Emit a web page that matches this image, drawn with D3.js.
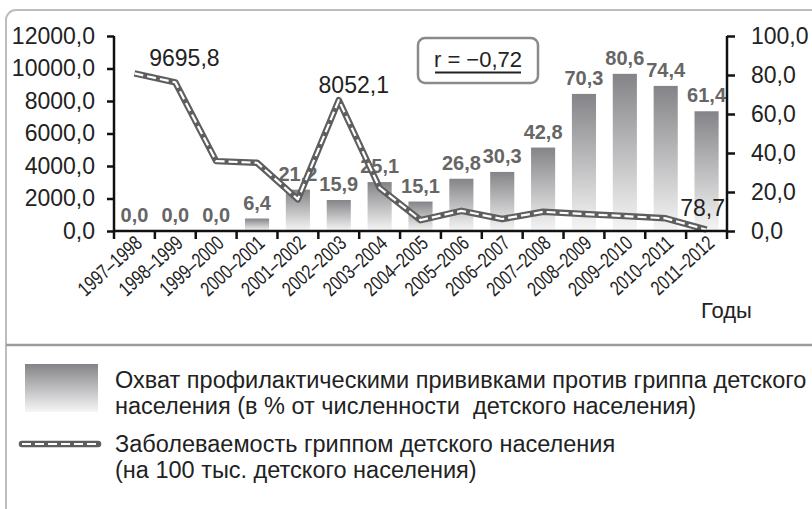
<!DOCTYPE html>
<html>
<head>
<meta charset="utf-8">
<script src="https://cdn.jsdelivr.net/npm/d3@7"></script>
<style>
  body { margin: 0; background: #fff; }
  svg { display: block; font-family: "Liberation Sans", Arial, sans-serif; }
</style>
</head>
<body>
<svg width="812" height="509"></svg>
<script>
// data
var seasons = ["1997–1998", "1998–1999", "1999–2000", "2000–2001", "2001–2002",
  "2002–2003", "2003–2004", "2004–2005", "2005–2006", "2006–2007", "2007–2008",
  "2008–2009", "2009–2010", "2010–2011", "2011–2012"];
var coverage = [0, 0, 0, 6.4, 21.2, 15.9, 25.1, 15.1, 26.8, 30.3, 42.8, 70.3, 80.6, 74.4, 61.4];
var incidence = [9695.8, 9150, 4300, 4200, 1950, 8052.1, 2650, 670, 1240, 740, 1180, 1040, 920, 780, 78.7];
var leftTicks = [0, 2000, 4000, 6000, 8000, 10000, 12000];
var rightTicks = [0, 20, 40, 60, 80, 100];

var fmt = function (v) { return d3.format(".1f")(v).replace(".", ","); };

var svg = d3.select("svg"),
    margin = { top: 36, right: 85, bottom: 278, left: 114 },
    width = +svg.attr("width") - margin.left - margin.right,
    height = +svg.attr("height") - margin.top - margin.bottom;

// gradient for the bars
var defs = svg.append("defs");
var grad = defs.append("linearGradient")
    .attr("id", "barGrad")
    .attr("x1", 0).attr("y1", 0).attr("x2", 0).attr("y2", 1);
grad.append("stop").attr("offset", "0%").attr("stop-color", "#848488");
grad.append("stop").attr("offset", "100%").attr("stop-color", "#f6f6f6");

// outer frame and divider
svg.append("rect")
    .attr("x", 6).attr("y", 10)
    .attr("width", 840).attr("height", 540)
    .attr("rx", 10)
    .attr("fill", "#fff")
    .attr("stroke", "#bdbdbd")
    .attr("stroke-width", 2);
svg.append("line")
    .attr("x1", 6).attr("x2", 812)
    .attr("y1", 345).attr("y2", 345)
    .attr("stroke", "#9a9a9a")
    .attr("stroke-width", 2.5);

var x = d3.scaleBand().domain(seasons).range([0, width]).paddingInner(0.41).paddingOuter(0.205),
    xb = d3.scaleBand().domain(seasons).range([0, width]),
    yL = d3.scaleLinear().domain([0, 12000]).range([height, 0]),
    yR = d3.scaleLinear().domain([0, 100]).range([height, 0]);

var g = svg.append("g")
    .attr("transform", "translate(" + margin.left + "," + margin.top + ")");

// bars
g.selectAll(".bar")
    .data(coverage)
    .enter().append("rect")
    .attr("class", "bar")
    .attr("x", function (d, i) { return x(seasons[i]); })
    .attr("y", function (d) { return yR(d); })
    .attr("width", x.bandwidth())
    .attr("height", function (d) { return height - yR(d); })
    .attr("fill", "url(#barGrad)");

// bar labels
g.selectAll(".barLabel")
    .data(coverage)
    .enter().append("text")
    .attr("class", "barLabel")
    .attr("x", function (d, i) { return xb(seasons[i]) + xb.bandwidth() / 2; })
    .attr("y", function (d) { return yR(d) - 9; })
    .attr("text-anchor", "middle")
    .attr("font-size", 20)
    .attr("font-weight", "bold")
    .attr("fill", "#666")
    .text(fmt);

// incidence line: dark casing with a white dashed core
var line = d3.line()
    .x(function (d, i) { return xb(seasons[i]) + xb.bandwidth() / 2; })
    .y(function (d) { return yL(d); });

g.append("path")
    .datum(incidence)
    .attr("fill", "none")
    .attr("stroke", "#5e5e5e")
    .attr("stroke-width", 6.5)
    .attr("stroke-linejoin", "round")
    .attr("d", line);
g.append("path")
    .datum(incidence)
    .attr("fill", "none")
    .attr("stroke", "#fff")
    .attr("stroke-width", 2.2)
    .attr("stroke-dasharray", "9,4")
    .attr("stroke-linejoin", "round")
    .attr("d", line);

// labels on the line
var lineNotes = [{ i: 0, dx: 50, dy: -7 }, { i: 5, dx: 15, dy: -7 }, { i: 14, dx: -4, dy: -14 }];
g.selectAll(".lineLabel")
    .data(lineNotes)
    .enter().append("text")
    .attr("x", function (d) { return xb(seasons[d.i]) + xb.bandwidth() / 2 + d.dx; })
    .attr("y", function (d) { return yL(incidence[d.i]) + d.dy; })
    .attr("text-anchor", "middle")
    .attr("font-size", 23)
    .attr("fill", "#222")
    .text(function (d) { return fmt(incidence[d.i]); });

// axes
var axL = g.append("g")
    .call(d3.axisLeft(yL).tickValues(leftTicks).tickSize(7).tickPadding(12).tickFormat(fmt));
var axR = g.append("g")
    .attr("transform", "translate(" + width + ",0)")
    .call(d3.axisRight(yR).tickValues(rightTicks).tickSize(8).tickPadding(16).tickFormat(fmt));
var axB = g.append("g")
    .attr("transform", "translate(0," + height + ")")
    .call(d3.axisBottom(xb).tickSize(8).tickFormat(""));

[axL, axR].forEach(function (a) {
  a.selectAll("text").attr("font-size", 23).attr("fill", "#222").attr("font-family", null);
});
[axL, axR, axB].forEach(function (a) {
  a.select(".domain").attr("stroke", "#111").attr("stroke-width", 2.5);
  a.selectAll(".tick line").attr("stroke", "#111").attr("stroke-width", 2.5);
});
axL.select(".domain").attr("d", "M0,0V" + height);
axR.select(".domain").attr("d", "M0,0V" + height);
axB.select(".domain").attr("d", "M0,0H" + width);

// move x ticks to the band edges
axB.selectAll(".tick").remove();
axB.selectAll(".edge")
    .data(d3.range(seasons.length + 1))
    .enter().append("line")
    .attr("x1", function (i) { return i * xb.step(); })
    .attr("x2", function (i) { return i * xb.step(); })
    .attr("y1", 0).attr("y2", 8)
    .attr("stroke", "#111")
    .attr("stroke-width", 2.5);

// rotated season labels (condensed look)
axB.selectAll(".season")
    .data(seasons)
    .enter().append("text")
    .attr("class", "season")
    .attr("transform", function (d) {
      return "translate(" + (xb(d) + xb.bandwidth() / 2 + 9) + ",14) rotate(-42) scale(0.76,1)";
    })
    .attr("text-anchor", "end")
    .attr("font-size", 20.5)
    .attr("fill", "#222")
    .text(function (d) { return d; });

svg.append("text")
    .attr("x", 701).attr("y", 318)
    .attr("font-size", 22)
    .attr("fill", "#222")
    .text("Годы");

// correlation box
svg.append("rect")
    .attr("x", 418).attr("y", 38)
    .attr("width", 120).attr("height", 45)
    .attr("rx", 7)
    .attr("fill", "#fff")
    .attr("stroke", "#8a8a8a")
    .attr("stroke-width", 2.5);
svg.append("text")
    .attr("x", 478).attr("y", 67)
    .attr("text-anchor", "middle")
    .attr("font-size", 22)
    .attr("fill", "#222")
    .text("r = −0,72");
svg.append("line")
    .attr("x1", 435).attr("x2", 521)
    .attr("y1", 72.5).attr("y2", 72.5)
    .attr("stroke", "#222").attr("stroke-width", 2);

// legend
var leg = svg.append("g");
leg.append("rect")
    .attr("x", 25).attr("y", 364)
    .attr("width", 73).attr("height", 48)
    .attr("fill", "url(#barGrad)");
leg.append("line")
    .attr("x1", 22).attr("x2", 98).attr("y1", 444).attr("y2", 444)
    .attr("stroke", "#5e5e5e").attr("stroke-width", 6.5).attr("stroke-linecap", "round");
leg.append("line")
    .attr("x1", 22).attr("x2", 98).attr("y1", 444).attr("y2", 444)
    .attr("stroke", "#fff").attr("stroke-width", 2.2).attr("stroke-dasharray", "9,4");

var legendLines = [
  { y: 388, t: "Охват профилактическими прививками против гриппа детского" },
  { y: 414, t: "населения (в % от численности  детского населения)" },
  { y: 452, t: "Заболеваемость гриппом детского населения" },
  { y: 478, t: "(на 100 тыс. детского населения)" }
];
leg.selectAll(".legText")
    .data(legendLines)
    .enter().append("text")
    .attr("x", 115)
    .attr("y", function (d) { return d.y; })
    .attr("font-size", 23.5)
    .attr("fill", "#222")
    .attr("xml:space", "preserve")
    .text(function (d) { return d.t; });
</script>
</body>
</html>
